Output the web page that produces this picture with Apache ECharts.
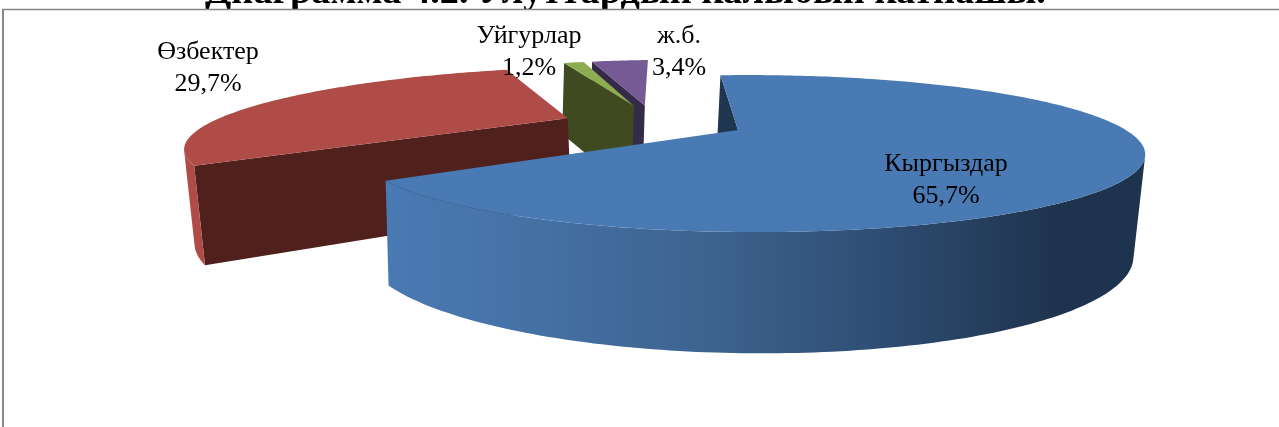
<!DOCTYPE html>
<html lang="ky">
<head>
    <meta charset="UTF-8">
    <title>Диаграмма 4.2</title>
    <style>
        html, body { margin: 0; padding: 0; background: #fff; }
        #main { width: 1279px; height: 427px; }
    </style>
</head>
<body>
<div id="main"></div>
<script src="https://cdn.jsdelivr.net/npm/echarts@6/dist/echarts.min.js"></script>
<script>
    var titleText = 'Диаграмма 4.2. Улуттардын калыбын катнашы.';
    var categories = ['Кыргыздар', 'Өзбектер', 'Уйгурлар', 'ж.б.'];
    var shares = [65.7, 29.7, 1.2, 3.4];

    var topColors = ['#4a7ab3', '#b04c48', '#8eac50', '#755a96'];
    var faceColors = ['#1f3550', '#50201d', '#3f4a20', '#352a48'];
    var labelSpots = [[946, 180], [208, 68], [529, 52], [679, 52]];
    // hand tuning per slice, the original 3d is not a clean projection
    var sliceScale = [1, 1.05, 1, 1];
    var sliceNudge = [[0, 0], [-7, 0], [-2, -2], [-3, -2]];
    var sliceShear = [0, 5, 0, 0];

    // start of the first slice, degrees clockwise from the back of the pie
    var firstAngle = -3.5;
    var explode = 0.25;

    // perspective of the tilted pie, the blue apex is the anchor
    var cx = 738, cy = 130;
    var radiusX = 374, radiusY = 71.4, depth = 94;
    var perspY = 0.3, perspX = 0.0355, perspZ = 0.017, shearX = -4;

    var total = shares.reduce(function (a, b) { return a + b; }, 0);
    var slices = [];
    var running = firstAngle;
    shares.forEach(function (v, i) {
        var sweep = v / total * 360;
        slices.push({ index: i, start: running, end: running + sweep, mid: running + sweep / 2 });
        running += sweep;
    });

    function dir(deg) {
        var a = deg * Math.PI / 180;
        return [Math.sin(a), -Math.cos(a)];
    }

    var anchor = dir(slices[0].mid).map(function (n) { return n * explode; });

    function project(x, y, z) {
        var rx = x - anchor[0], ry = y - anchor[1];
        var w = 1 - perspY * ry - perspX * rx + perspZ * z;
        return [cx + radiusX * rx / w + shearX * z, cy + radiusY * ry / w + depth * z / Math.pow(w, 0.82)];
    }

    function area(pts) {
        var s = 0;
        for (var i = 0; i < pts.length; i++) {
            var a = pts[i], b = pts[(i + 1) % pts.length];
            s += a[0] * b[1] - b[0] * a[1];
        }
        return s;
    }

    function blueWall() {
        var xs = [[385, '#4a7ab3'], [490, '#4674aa'], [700, '#3e6490'], [870, '#2f4f75'], [1060, '#1e334d'], [1145, '#1e334d']];
        var stops = xs.map(function (s) { return { offset: (s[0] - 385) / 760, color: s[1] }; });
        return new echarts.graphic.LinearGradient(385, 0, 1145, 0, stops, true);
    }

    function drawSlice(slice) {
        var out = dir(slice.mid);
        var ox = out[0] * explode, oy = out[1] * explode;
        var scale = sliceScale[slice.index], nudge = sliceNudge[slice.index], lean = sliceShear[slice.index];
        function place(p, z) {
            return [p[0] + nudge[0] + lean * z, p[1] + nudge[1]];
        }
        function rimPoint(deg, z) {
            var d = dir(deg);
            return place(project(ox + d[0] * scale, oy + d[1] * scale, z), z);
        }
        var apexTop = place(project(ox, oy, 0), 0), apexBottom = place(project(ox, oy, 1), 1);
        var children = [];

        // cut faces, only the ones turned towards the viewer
        var startFace = [apexTop, rimPoint(slice.start, 0), rimPoint(slice.start, 1), apexBottom];
        var endFace = [apexTop, rimPoint(slice.end, 0), rimPoint(slice.end, 1), apexBottom];
        if (area(startFace) < 0) {
            children.push({ type: 'polygon', shape: { points: startFace }, style: { fill: faceColors[slice.index] } });
        }
        if (area(endFace) > 500) {
            children.push({ type: 'polygon', shape: { points: endFace }, style: { fill: faceColors[slice.index] } });
        }

        // outer wall, front part only
        var upper = [], lower = [];
        var steps = Math.max(2, Math.ceil(slice.end - slice.start));
        for (var i = 0; i < steps; i++) {
            var a = slice.start + (slice.end - slice.start) * i / steps;
            var b = slice.start + (slice.end - slice.start) * (i + 1) / steps;
            var quad = [rimPoint(a, 0), rimPoint(b, 0), rimPoint(b, 1), rimPoint(a, 1)];
            if (area(quad) < 0) {
                if (!upper.length) { upper.push(quad[0]); lower.push(quad[3]); }
                upper.push(quad[1]);
                lower.push(quad[2]);
            }
        }
        if (upper.length) {
            children.push({
                type: 'polygon',
                shape: { points: upper.concat(lower.reverse()) },
                style: { fill: slice.index === 0 ? blueWall() : topColors[slice.index] }
            });
        }

        // top of the slice
        var top = [apexTop];
        for (var j = 0; j <= steps; j++) {
            top.push(rimPoint(slice.start + (slice.end - slice.start) * j / steps, 0));
        }
        children.push({ type: 'polygon', shape: { points: top }, style: { fill: topColors[slice.index] } });
        return children;
    }

    function labelOf(i) {
        return categories[i] + '\n' + shares[i].toFixed(1).replace('.', ',') + '%';
    }

    var chart = echarts.init(document.getElementById('main'), null, { renderer: 'canvas' });
    chart.setOption({
        animation: false,
        backgroundColor: '#fff',
        title: {
            text: titleText,
            left: 205,
            top: -26,
            padding: 0,
            z: 1,
            textStyle: { fontFamily: 'Liberation Serif', fontWeight: 'bold', fontSize: 38.3, color: '#000' }
        },
        graphic: [
            // the chart area sits on top of the title and cuts its lower edge
            { type: 'rect', z: 2, shape: { x: 0, y: 9, width: 1279, height: 418 }, style: { fill: '#fff' } },
            { type: 'line', z: 4, shape: { x1: 2, y1: 9.5, x2: 1279, y2: 9.5 }, style: { stroke: '#868686', lineWidth: 1.5 } },
            { type: 'line', z: 4, shape: { x1: 3, y1: 9, x2: 3, y2: 427 }, style: { stroke: '#868686', lineWidth: 2 } }
        ],
        series: [{
            type: 'custom',
            coordinateSystem: 'none',
            silent: true,
            z: 3,
            // painted back to front
            data: [3, 2, 1, 0],
            renderItem: function (params, api) {
                return { type: 'group', children: drawSlice(slices[api.value(0)]) };
            }
        }, {
            type: 'custom',
            coordinateSystem: 'none',
            silent: true,
            z: 5,
            data: [0, 1, 2, 3],
            renderItem: function (params, api) {
                var i = api.value(0);
                return {
                    type: 'text',
                    x: labelSpots[i][0],
                    y: labelSpots[i][1],
                    style: {
                        text: labelOf(i),
                        fill: '#000',
                        align: 'center',
                        verticalAlign: 'middle',
                        fontFamily: 'Liberation Serif',
                        fontSize: 26,
                        lineHeight: 32
                    }
                };
            }
        }]
    });
</script>
</body>
</html>
